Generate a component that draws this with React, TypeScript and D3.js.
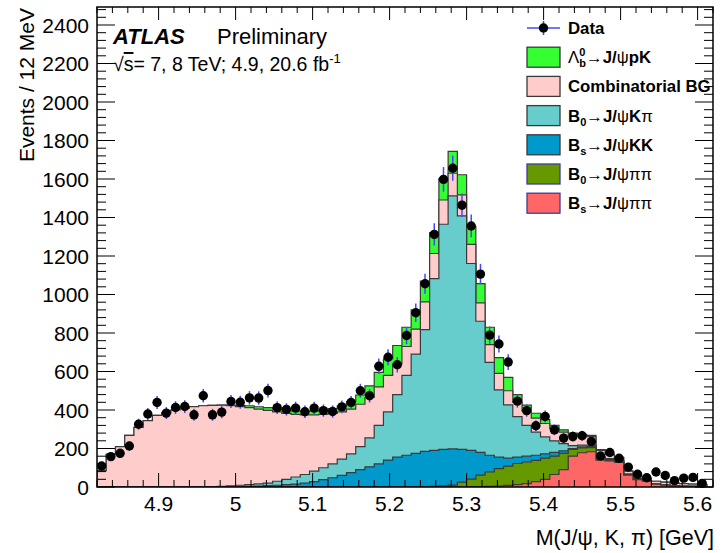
import React from "react";
import * as d3 from "d3";

// ---------- data ----------
const BIN_START = 4.82; // GeV
const BIN_WIDTH = 0.012; // 12 MeV

const dataCounts = [
  109, 158, 175, 213, 326, 379, 439, 384, 413, 418,
  375, 474, 375, 389, 444, 440, 463, 462, 501, 412,
  403, 410, 391, 410, 397, 392, 416, 439, 500, 474,
  627, 674, 635, 787, 905, 1056, 1312, 1598, 1656, 1464,
  1356, 1106, 789, 743, 649, 446, 397, 318, 366, 297,
  254, 262, 266, 236, 161, 179, 149, 103, 66, 48,
  78, 60, 33, 46, 50, 19,
];
const dataErrors = [
  17, 20, 21, 23, 29, 31, 34, 31, 33, 33,
  31, 35, 31, 32, 34, 34, 35, 35, 36, 33,
  32, 33, 32, 33, 32, 32, 33, 34, 36, 35,
  40, 42, 40, 45, 48, 52, 58, 64, 65, 61,
  59, 53, 45, 44, 41, 34, 32, 29, 31, 28,
  26, 26, 26, 25, 20, 21, 20, 16, 13, 11,
  14, 12, 9, 11, 11, 7,
];

// stack components, bottom to top
const bsJpsiPiPi = [
  0, 0, 0, 0, 0, 0, 0, 0, 0, 0,
  0, 0, 0, 0, 0, 0, 0, 0, 0, 0,
  0, 0, 0, 0, 0, 0, 0, 0, 0, 0,
  0, 0, 0, 0, 0, 0, 0, 0, 0, 0,
  1, 2, 3, 5, 8, 12, 18, 28, 40, 65,
  90, 160, 178, 183, 140, 135, 128, 62, 38, 30,
  15, 10, 6, 4, 3, 2,
];
const b0JpsiPiPi = [
  0, 0, 0, 0, 0, 0, 0, 0, 0, 0,
  0, 0, 0, 0, 0, 0, 0, 0, 0, 0,
  0, 0, 0, 0, 0, 0, 0, 0, 0, 0,
  0, 0, 0, 0, 0, 0, 3, 6, 10, 25,
  40, 60, 75, 90, 100, 110, 112, 110, 110, 95,
  85, 35, 25, 22, 8, 5, 4, 3, 2, 1,
  0, 0, 0, 0, 0, 0,
];
const bsJpsiKK = [
  0, 0, 0, 0, 0, 0, 0, 0, 0, 0,
  0, 0, 0, 0, 1, 2, 3, 5, 7, 9,
  12, 15, 20, 28, 38, 48, 60, 75, 90, 105,
  120, 140, 155, 165, 175, 185, 187, 189, 188, 170,
  149, 118, 87, 60, 42, 33, 30, 27, 22, 20,
  13, 5, 5, 5, 3, 2, 1, 0, 0, 0,
  0, 0, 0, 0, 0, 0,
];
const b0JpsiKpi = [
  0, 0, 0, 0, 0, 0, 0, 0, 0, 0,
  0, 0, 2, 3, 5, 7, 9, 11, 13, 21,
  28, 37, 45, 54, 62, 72, 85, 97, 120, 150,
  200, 250, 325, 415, 515, 633, 892, 1170, 1314, 1213,
  971, 681, 482, 350, 277, 211, 160, 120, 88, 60,
  37, 15, 10, 8, 7, 5, 4, 3, 3, 2,
  1, 1, 1, 1, 0, 0,
];
const combinatorialBG = [
  85, 170, 210, 268, 310, 345, 372, 385, 400, 410,
  418, 422, 422, 422, 416, 409, 400, 389, 378, 360,
  342, 325, 310, 293, 277, 262, 245, 233, 220, 210,
  200, 190, 160, 150, 130, 144, 131, 126, 118, 110,
  99, 96, 93, 85, 73, 74, 75, 73, 70, 65,
  60, 55, 47, 44, 32, 21, 15, 14, 12, 12,
  14, 14, 13, 13, 12, 10,
];
const lambdaBJpsipK = [
  0, 0, 0, 0, 0, 0, 0, 0, 0, 0,
  0, 0, 0, 0, 3, 6, 10, 12, 14, 16,
  17, 18, 18, 20, 22, 25, 30, 38, 48, 60,
  75, 85, 95, 100, 100, 107, 108, 111, 113, 104,
  93, 99, 90, 82, 70, 40, 30, 25, 20, 15,
  12, 10, 8, 6, 4, 3, 2, 1, 0, 0,
  0, 0, 0, 0, 0, 0,
];

const xTickValues = [4.9, 5.0, 5.1, 5.2, 5.3, 5.4, 5.5, 5.6];
const xTickLabels = ["4.9", "5", "5.1", "5.2", "5.3", "5.4", "5.5", "5.6"];
const yTickValues = [0, 200, 400, 600, 800, 1000, 1200, 1400, 1600, 1800, 2000, 2200, 2400];

// ---------- layout ----------
const FRAME = { left: 97, right: 713, top: 7, bottom: 487 };
const FONT = "'Liberation Sans', Arial, Helvetica, sans-serif";
const OUTLINE = "#3a3a3a";

type Layer = { key: string; values: number[]; fill: string; stroke: string };

const layers: Layer[] = [
  { key: "bspipi", values: bsJpsiPiPi, fill: "#ff6666", stroke: OUTLINE },
  { key: "b0pipi", values: b0JpsiPiPi, fill: "#669900", stroke: OUTLINE },
  { key: "bskk", values: bsJpsiKK, fill: "#0099cc", stroke: OUTLINE },
  { key: "b0kpi", values: b0JpsiKpi, fill: "#66cccc", stroke: OUTLINE },
  { key: "comb", values: combinatorialBG, fill: "#ffcccc", stroke: OUTLINE },
  { key: "lambdab", values: lambdaBJpsipK, fill: "#33ff33", stroke: OUTLINE },
];

export default function App() {
  const n = dataCounts.length;
  const x = d3.scaleLinear().domain([4.82, 5.62]).range([FRAME.left, FRAME.right]);
  const y = d3.scaleLinear().domain([0, 2400]).range([FRAME.bottom, 25]);
  const yTopValue = y.invert(FRAME.top);

  const edge = (i: number) => BIN_START + BIN_WIDTH * i;
  const center = (i: number) => BIN_START + BIN_WIDTH * (i + 0.5);

  // cumulative stack
  let cum = new Array(n).fill(0);
  const stacked = layers.map((l) => {
    cum = cum.map((c, i) => c + l.values[i]);
    return { ...l, tops: cum.slice() };
  });

  const stepPoints = (tops: number[]): [number, number][] => {
    const pts: [number, number][] = [];
    tops.forEach((t, i) => {
      pts.push([edge(i), t]);
      pts.push([edge(i + 1), t]);
    });
    return pts;
  };
  const area = d3
    .area<[number, number]>()
    .x((d) => x(d[0]))
    .y0(y(0))
    .y1((d) => y(d[1]));
  const line = d3
    .line<[number, number]>()
    .x((d) => x(d[0]))
    .y((d) => y(d[1]));

  // ticks
  const xMinor = d3.range(0, 41).map((k) => 4.82 + 0.02 * k).filter((v) => v <= 5.6201);
  const yMinor = d3.range(0, 63).map((k) => 40 * k).filter((v) => v <= yTopValue);

  const legendX = 527;
  const legendBoxW = 33;
  const legendBoxH = 20;
  const legendTextX = 568;
  const rowY = (k: number) => 28 + 29.2 * k;
  const lfs = 16.8;
  const subFs = 11;

  const legendRows = [
    { fill: "#33ff33", stroke: OUTLINE },
    { fill: "#ffcccc", stroke: OUTLINE },
    { fill: "#66cccc", stroke: OUTLINE },
    { fill: "#0099cc", stroke: OUTLINE },
    { fill: "#669900", stroke: "#3c3ca0" },
    { fill: "#ff6666", stroke: "#3c3ca0" },
  ];

  return (
    <svg
      width={722}
      height={553}
      style={{ position: "absolute", left: 0, top: 0, background: "#fff" }}
      fontFamily={FONT}
    >
      <rect x={0} y={0} width={722} height={553} fill="#fff" />
      <defs>
        <clipPath id="frameClip">
          <rect x={FRAME.left} y={FRAME.top} width={FRAME.right - FRAME.left} height={FRAME.bottom - FRAME.top} />
        </clipPath>
      </defs>

      {/* stacked histograms: draw top-most cumulative first */}
      <g clipPath="url(#frameClip)">
        {stacked
          .slice()
          .reverse()
          .map((l) => {
            const pts = stepPoints(l.tops);
            const outline: [number, number][] = [[edge(0), 0], ...pts, [edge(n), 0]];
            return (
              <g key={l.key}>
                <path d={area(pts) || ""} fill={l.fill} />
                <path d={line(outline) || ""} fill="none" stroke={l.stroke} strokeWidth={1.2} />
              </g>
            );
          })}
      </g>

      {/* data */}
      <g>
        {dataCounts.map((v, i) => (
          <line
            key={"e" + i}
            x1={x(center(i))}
            x2={x(center(i))}
            y1={y(v - dataErrors[i])}
            y2={y(v + dataErrors[i])}
            stroke="#4646ff"
            strokeWidth={1.5}
          />
        ))}
        {dataCounts.map((v, i) => (
          <circle key={"m" + i} cx={x(center(i))} cy={y(v)} r={4.7} fill="#000" />
        ))}
      </g>

      {/* frame */}
      <rect
        x={FRAME.left}
        y={FRAME.top}
        width={FRAME.right - FRAME.left}
        height={FRAME.bottom - FRAME.top}
        fill="none"
        stroke="#000"
        strokeWidth={1.5}
      />

      {/* x ticks */}
      <g stroke="#000" strokeWidth={1}>
        {xMinor.map((v, k) => {
          const major = xTickValues.some((t) => Math.abs(t - v) < 1e-6);
          const len = major ? 14 : 7;
          return (
            <g key={"xt" + k}>
              <line x1={x(v)} x2={x(v)} y1={FRAME.bottom} y2={FRAME.bottom - len} />
              <line x1={x(v)} x2={x(v)} y1={FRAME.top} y2={FRAME.top + (major ? 13 : 6)} />
            </g>
          );
        })}
        {yMinor.map((v, k) => {
          const major = v % 200 === 0;
          const len = major ? 18 : 9;
          return (
            <g key={"yt" + k}>
              <line x1={FRAME.left} x2={FRAME.left + len} y1={y(v)} y2={y(v)} />
              <line x1={FRAME.right} x2={FRAME.right - len} y1={y(v)} y2={y(v)} />
            </g>
          );
        })}
      </g>

      {/* tick labels */}
      <g fontSize={21} fill="#000">
        {xTickValues.map((v, k) => (
          <text key={"xl" + k} x={x(v)} y={511} textAnchor="middle">
            {xTickLabels[k]}
          </text>
        ))}
        {yTickValues.map((v) => (
          <text key={"yl" + v} x={89} y={y(v)} dy="0.36em" textAnchor="end">
            {v}
          </text>
        ))}
      </g>

      {/* axis titles */}
      <text x={714} y={545} textAnchor="end" fontSize={21.5}>
        M(J/ψ, K, π) [GeV]
      </text>
      <text transform="translate(34, 8) rotate(-90)" textAnchor="end" fontSize={21}>
        Events / 12 MeV
      </text>

      {/* ATLAS label */}
      <text x={113} y={44} fontSize={22} fontWeight="bold" fontStyle="italic">
        ATLAS
      </text>
      <text x={217} y={44} fontSize={22}>
        Preliminary
      </text>
      <text x={113} y={71} fontSize={19.5}>
        √<tspan textDecoration="overline">s</tspan>= 7, 8 TeV; 4.9, 20.6 fb
        <tspan fontSize={13} dy={-8}>-1</tspan>
      </text>

      {/* legend */}
      <g>
        <line x1={legendX} x2={legendX + legendBoxW} y1={rowY(0)} y2={rowY(0)} stroke="#4646ff" strokeWidth={1.5} />
        <line x1={legendX + legendBoxW / 2} x2={legendX + legendBoxW / 2} y1={rowY(0) - 7} y2={rowY(0) + 7} stroke="#4646ff" strokeWidth={1.5} />
        <circle cx={legendX + legendBoxW / 2} cy={rowY(0)} r={4.7} fill="#000" />
        {legendRows.map((r, k) => (
          <rect
            key={"lb" + k}
            x={legendX}
            y={rowY(k + 1) - legendBoxH / 2}
            width={legendBoxW}
            height={legendBoxH}
            fill={r.fill}
            stroke={r.stroke}
            strokeWidth={1.3}
          />
        ))}
        <g fontSize={lfs} fontWeight="bold" fill="#000">
          <text x={legendTextX} y={rowY(0)} dy="0.36em">Data</text>
          <text x={legendTextX} y={rowY(1)} dy="0.36em">
            <tspan fontWeight="normal">Λ</tspan>
            <tspan fontSize={subFs} dy={-7}>0</tspan>
            <tspan fontSize={subFs} dx={-6.1} dy={11}>b</tspan>
            <tspan fontWeight="normal" dy={-4}>→</tspan>
            <tspan>J/</tspan>
            <tspan fontWeight="normal">ψ</tspan>
            <tspan>pK</tspan>
          </text>
          <text x={legendTextX} y={rowY(2)} dy="0.36em">Combinatorial BG</text>
          <text x={legendTextX} y={rowY(3)} dy="0.36em">
            <tspan>B</tspan>
            <tspan fontSize={subFs} dy={4}>0</tspan>
            <tspan fontWeight="normal" dy={-4}>→</tspan>
            <tspan>J/</tspan>
            <tspan fontWeight="normal">ψ</tspan>
            <tspan>K</tspan>
            <tspan fontWeight="normal">π</tspan>
          </text>
          <text x={legendTextX} y={rowY(4)} dy="0.36em">
            <tspan>B</tspan>
            <tspan fontSize={subFs} dy={4}>s</tspan>
            <tspan fontWeight="normal" dy={-4}>→</tspan>
            <tspan>J/</tspan>
            <tspan fontWeight="normal">ψ</tspan>
            <tspan>KK</tspan>
          </text>
          <text x={legendTextX} y={rowY(5)} dy="0.36em">
            <tspan>B</tspan>
            <tspan fontSize={subFs} dy={4}>0</tspan>
            <tspan fontWeight="normal" dy={-4}>→</tspan>
            <tspan>J/</tspan>
            <tspan fontWeight="normal">ψππ</tspan>
          </text>
          <text x={legendTextX} y={rowY(6)} dy="0.36em">
            <tspan>B</tspan>
            <tspan fontSize={subFs} dy={4}>s</tspan>
            <tspan fontWeight="normal" dy={-4}>→</tspan>
            <tspan>J/</tspan>
            <tspan fontWeight="normal">ψππ</tspan>
          </text>
        </g>
      </g>
    </svg>
  );
}
